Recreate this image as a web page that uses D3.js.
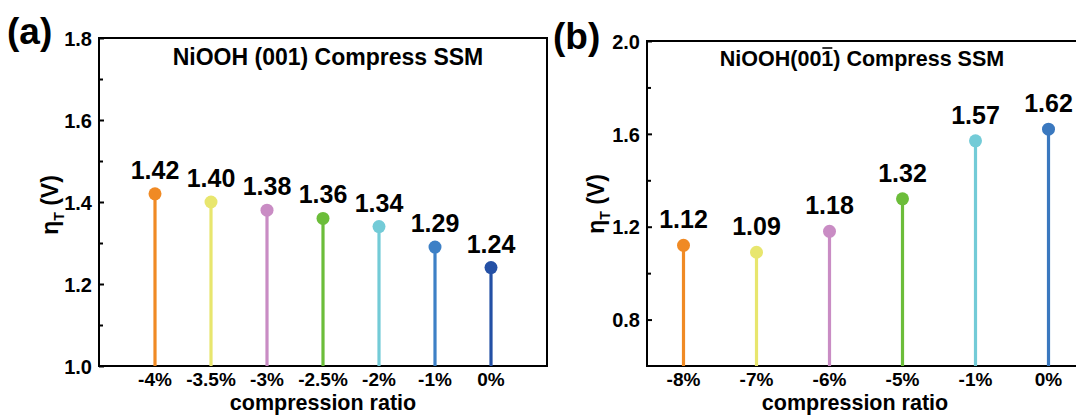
<!DOCTYPE html>
<html>
  <head>
    <title>NiOOH Compress SSM</title>
    <script src="https://d3js.org/d3.v7.min.js"></script>
    <style>
      body { margin: 0; background: white; }
      text { font-family: Arial, "Liberation Sans", sans-serif; font-weight: bold; fill: black; }
      .axis path, .axis line { stroke: black; }
    </style>
  </head>
  <body>
    <svg width="1076" height="416"></svg>
    <script>
      // panel (a) data
      var ratiosA = ["-4%", "-3.5%", "-3%", "-2.5%", "-2%", "-1%", "0%"];
      var etaA = [1.42, 1.40, 1.38, 1.36, 1.34, 1.29, 1.24];
      var colorsA = ["#f08a24", "#e8e66e", "#c98cc4", "#6cbd3a", "#73cbd7", "#3d80c6", "#2450a5"];
      var ticksA = [1.0, 1.2, 1.4, 1.6, 1.8];
      var minorA = [1.1, 1.3, 1.5, 1.7];

      // panel (b) data
      var ratiosB = ["-8%", "-7%", "-6%", "-5%", "-1%", "0%"];
      var etaB = [1.12, 1.09, 1.18, 1.32, 1.57, 1.62];
      var colorsB = ["#f08a24", "#e8e66e", "#c98cc4", "#6cbd3a", "#73cbd7", "#3a78bf"];
      var ticksB = [0.8, 1.2, 1.6, 2.0];
      var minorB = [1.0, 1.4, 1.8];

      var svg = d3.select("svg");

      function drawPanel(p) {
        var g = svg.append("g");
        var x = d3.scaleLinear().domain(p.xDomain).range([p.left, p.right]);
        var y = d3.scaleLinear().domain(p.yDomain).range([p.bottom, p.top]);

        // frame
        g.append("rect")
          .attr("x", p.left).attr("y", p.top)
          .attr("width", p.right - p.left).attr("height", p.bottom - p.top)
          .style("fill", "none").style("stroke", "black").style("stroke-width", 2);

        // y axis, major ticks inward
        var ya = g.append("g").attr("class", "axis")
          .attr("transform", "translate(" + p.left + ",0)")
          .call(d3.axisLeft(y).tickValues(p.ticks).tickFormat(d3.format(".1f")).tickSize(-5).tickPadding(7));
        ya.select(".domain").remove();
        ya.selectAll("line").style("stroke-width", 2);
        ya.selectAll("text").style("font-size", "20px").attr("dy", "0.36em");

        // minor ticks
        var ym = g.append("g").attr("class", "axis")
          .attr("transform", "translate(" + p.left + ",0)")
          .call(d3.axisLeft(y).tickValues(p.minor).tickFormat("").tickSize(-4));
        ym.select(".domain").remove();
        ym.selectAll("line").style("stroke-width", 2);

        // x labels
        p.cats.forEach(function (c, i) {
          g.append("text")
            .attr("x", x(i)).attr("y", p.bottom + 20)
            .style("text-anchor", "middle").style("font-size", "19px")
            .text(c);
        });

        // stems and dots
        p.values.forEach(function (v, i) {
          g.append("line")
            .attr("x1", x(i)).attr("x2", x(i))
            .attr("y1", y(p.yDomain[0])).attr("y2", y(v))
            .style("stroke", p.colors[i]).style("stroke-width", 3.2);
          g.append("circle")
            .attr("cx", x(i)).attr("cy", y(v)).attr("r", 6.5)
            .style("fill", p.colors[i]);
          g.append("text")
            .attr("x", x(i)).attr("y", y(v) - p.labelGap)
            .style("text-anchor", "middle").style("font-size", "25px")
            .text(d3.format(".2f")(v));
        });

        // x title
        g.append("text")
          .attr("x", p.xTitleX).attr("y", 410)
          .style("text-anchor", "middle").style("font-size", "21.5px")
          .text("compression ratio");

        // y title
        var yt = g.append("text")
          .attr("transform", "translate(" + p.yTitleX + "," + p.yTitleY + ") rotate(-90)")
          .style("text-anchor", "middle").style("font-size", "23px");
        yt.append("tspan").text("η");
        yt.append("tspan").attr("dy", 6).style("font-size", "14px").text("T");
        yt.append("tspan").attr("dy", -6).text(" (V)");

        // panel letter
        g.append("text")
          .attr("x", p.letterX).attr("y", p.letterY)
          .style("font-size", "37px")
          .text(p.letter);

        // chart title
        var t = g.append("text")
          .attr("x", p.titleX).attr("y", p.titleY)
          .style("text-anchor", "middle").style("font-size", p.titleSize)
          .text(p.title);
        if (p.barIndex != null) {
          var node = t.node();
          var s = node.getStartPositionOfChar(p.barIndex);
          var e = node.getEndPositionOfChar(p.barIndex);
          g.append("line")
            .attr("x1", s.x + 1).attr("x2", e.x - 1)
            .attr("y1", p.titleY - 18).attr("y2", p.titleY - 18)
            .style("stroke", "black").style("stroke-width", 1.6);
        }
      }

      drawPanel({
        left: 99, right: 547, top: 38, bottom: 366,
        xDomain: [-1, 7], yDomain: [1.0, 1.8],
        ticks: ticksA, minor: minorA,
        cats: ratiosA, values: etaA, colors: colorsA,
        labelGap: 15,
        xTitleX: 323, yTitleX: 58, yTitleY: 205,
        letter: "(a)", letterX: 7, letterY: 44,
        title: "NiOOH (001) Compress SSM", titleX: 328, titleY: 65, titleSize: "23px"
      });

      drawPanel({
        left: 647, right: 1085, top: 41, bottom: 366,
        xDomain: [-0.5, 5.5], yDomain: [0.6, 2.0],
        ticks: ticksB, minor: minorB,
        cats: ratiosB, values: etaB, colors: colorsB,
        labelGap: 17,
        xTitleX: 855, yTitleX: 604, yTitleY: 204,
        letter: "(b)", letterX: 553, letterY: 49,
        title: "NiOOH(001) Compress SSM", titleX: 862, titleY: 66, titleSize: "21.5px", barIndex: 8
      });
    </script>
  </body>
</html>
